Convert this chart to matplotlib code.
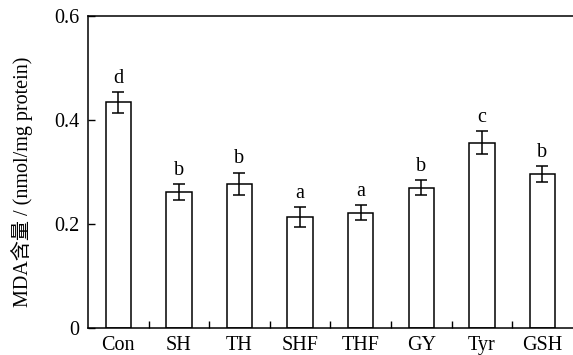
import matplotlib
matplotlib.use('Agg')
import matplotlib.pyplot as plt
import numpy as np

groups = ['Con', 'SH', 'TH', 'SHF', 'THF', 'GY', 'Tyr', 'GSH']
mda = [0.434, 0.261, 0.277, 0.214, 0.222, 0.270, 0.356, 0.296]
err = [0.020, 0.015, 0.022, 0.019, 0.015, 0.015, 0.022, 0.015]
letters = ['d', 'b', 'b', 'a', 'a', 'b', 'c', 'b']
yticks = [0, 0.2, 0.4, 0.6]
ytick_labels = ['0', '0.2', '0.4', '0.6']

plt.rcParams['font.family'] = ['Liberation Serif', 'Noto Sans CJK SC']
plt.rcParams['font.size'] = 14.5

fig = plt.figure(figsize=(5.73, 3.55), dpi=100)
ax = fig.add_axes([0.1536, 0.076, 0.846, 0.879])

x = np.arange(len(groups))
ax.bar(x, mda, width=0.42, color='white', edgecolor='black', linewidth=1.1,
       yerr=err, capsize=4.3, error_kw=dict(elinewidth=1.1, capthick=1.1, ecolor='black'))

# significance letters above the error bars
for xi, m, e, lab in zip(x, mda, err, letters):
    ax.text(xi, m + e + 0.008, lab, ha='center', va='bottom', fontsize=14.5)

ax.set_xlim(-0.5, 7.5)
ax.set_ylim(0, 0.6)
ax.set_yticks(yticks)
ax.set_yticklabels(ytick_labels)
ax.set_xticks(x)
ax.set_xticklabels(groups)
ax.set_xticks(x[:-1] + 0.5, minor=True)
ax.tick_params(axis='x', which='major', length=0, pad=6)
ax.tick_params(axis='x', which='minor', direction='in', length=5, width=1)
ax.tick_params(axis='y', direction='in', length=5, width=1, pad=6)
ax.spines['right'].set_visible(False)
for s in ['left', 'top', 'bottom']:
    ax.spines[s].set_linewidth(1.1)

ax.set_ylabel('MDA含量 / (nmol/mg protein)')
ax.yaxis.set_label_coords(-0.113, 0.47)

fig.savefig('out.png', dpi=100)
